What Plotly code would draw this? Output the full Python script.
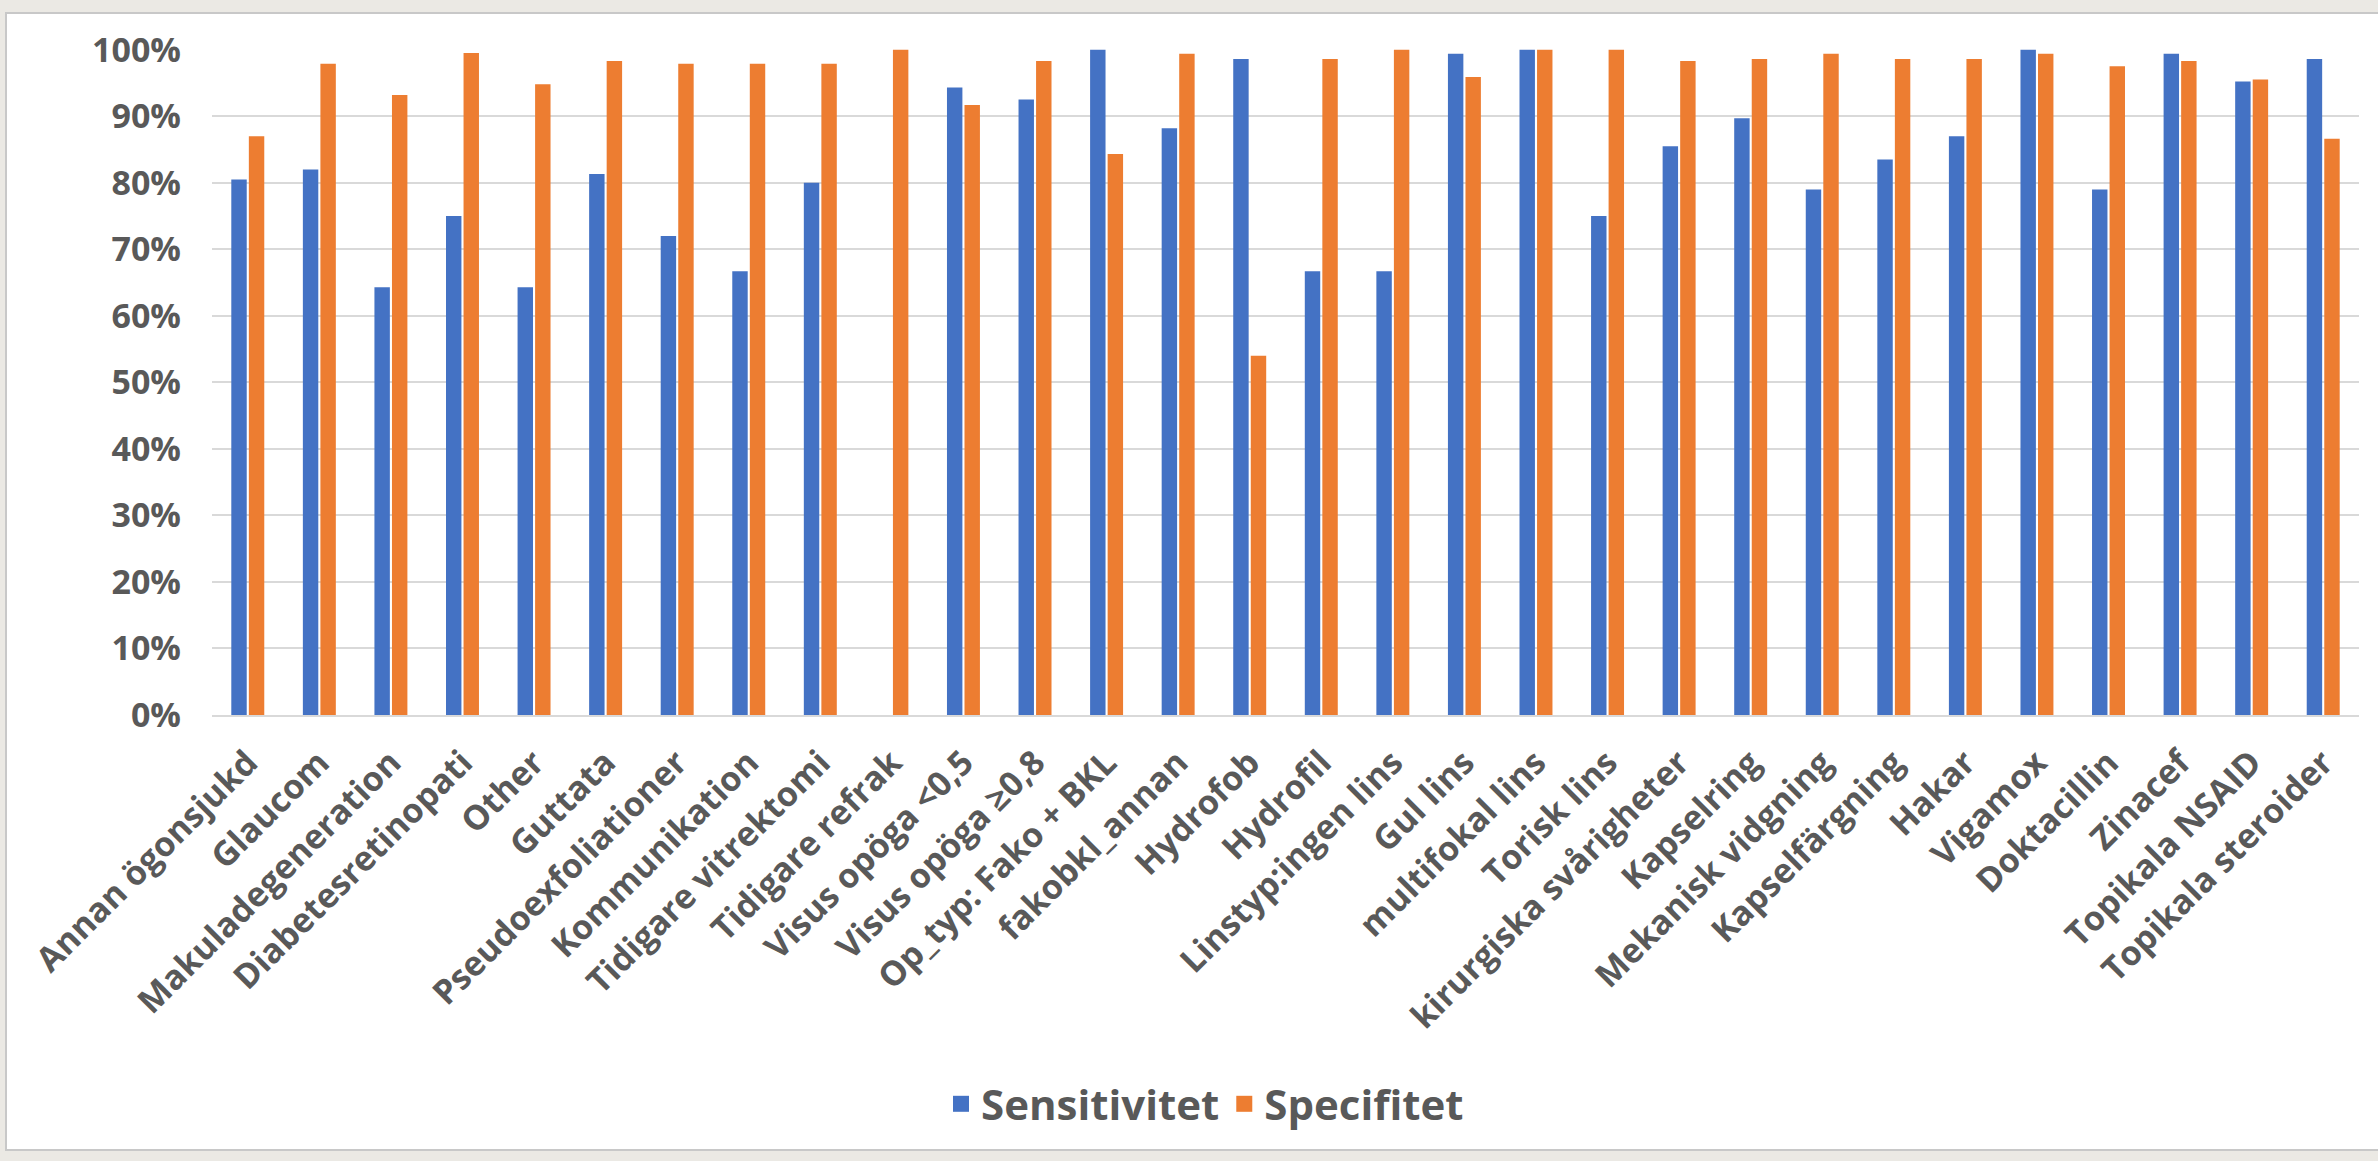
import plotly.graph_objects as go

# Categories (surgical / patient factors)
categories = [
    "Annan ögonsjukd", "Glaucom", "Makuladegeneration", "Diabetesretinopati",
    "Other", "Guttata", "Pseudoexfoliationer", "Kommunikation",
    "Tidigare vitrektomi", "Tidigare refrak", "Visus opöga <0,5",
    "Visus opöga ≥0,8", "Op_typ: Fako + BKL", "fakobkl_annan", "Hydrofob",
    "Hydrofil", "Linstyp:ingen lins", "Gul lins", "multifokal lins",
    "Torisk lins", "kirurgiska svårigheter", "Kapselring", "Mekanisk vidgning",
    "Kapselfärgning", "Hakar", "Vigamox", "Doktacillin", "Zinacef",
    "Topikala NSAID", "Topikala steroider",
]

# Sensitivity and specificity, in percent
sensitivitet = [
    80.5, 82.0, 64.3, 75.0, 64.3, 81.3, 72.0, 66.7, 80.0, 0.0,
    94.3, 92.5, 100.0, 88.2, 98.6, 66.7, 66.7, 99.4, 100.0, 75.0,
    85.5, 89.7, 79.0, 83.5, 87.0, 100.0, 79.0, 99.4, 95.2, 98.6,
]
specifitet = [
    87.0, 97.9, 93.2, 99.5, 94.8, 98.3, 97.9, 97.9, 97.9, 100.0,
    91.7, 98.3, 84.3, 99.4, 54.0, 98.6, 100.0, 95.9, 100.0, 100.0,
    98.3, 98.6, 99.4, 98.6, 98.6, 99.4, 97.5, 98.3, 95.5, 86.6,
]

series_names = ["Sensitivitet", "Specifitet"]
series_colors = ["#4472C4", "#ED7D31"]

W, H = 2378, 1161
L, R, T, B = 212, 19, 49, 446
text_color = "#595959"
font_family = "Open Sans"

fig = go.Figure()
for name, vals, col in zip(series_names, [sensitivitet, specifitet], series_colors):
    fig.add_trace(go.Bar(
        x=categories,
        y=[v / 100 for v in vals],
        name=name,
        marker=dict(color=col, line=dict(width=0)),
        showlegend=False,
        legendgroup=name,
    ))
    # Larger square legend key for the series
    fig.add_trace(go.Scatter(
        x=[None], y=[None], mode="markers", name=name, legendgroup=name,
        marker=dict(symbol="square", size=16, color=col),
        showlegend=True,
    ))

plot_w = W - L - R
plot_h = H - T - B


def px_to_paper_x(px):
    return (px - L) / plot_w


def px_to_paper_y(py):
    return (H - B - py) / plot_h


# White chart card on a light grey frame
fig.add_shape(
    type="rect", xref="paper", yref="paper", layer="below",
    x0=px_to_paper_x(6), x1=px_to_paper_x(2380),
    y0=px_to_paper_y(1150), y1=px_to_paper_y(13),
    fillcolor="white", line=dict(color="#c8c8c8", width=2),
)

fig.update_layout(
    width=W, height=H,
    margin=dict(l=L, r=R, t=T, b=B),
    paper_bgcolor="#ebe9e4",
    plot_bgcolor="rgba(0,0,0,0)",
    barmode="group",
    bargap=0.51,
    bargroupgap=0.12,
    font=dict(family=font_family, color=text_color, size=30, weight=700),
    legend=dict(
        orientation="h", x=px_to_paper_x(1205), xanchor="center",
        y=px_to_paper_y(1104), yanchor="middle",
        font=dict(size=42, family=font_family, color=text_color, weight=700),
        itemsizing="trace", itemwidth=30, bgcolor="rgba(0,0,0,0)",
    ),
    xaxis=dict(
        type="category",
        tickangle=-45,
        tickfont=dict(size=34, family=font_family, color=text_color, weight=700),
        showgrid=False,
        showline=True, linecolor="#d9d9d9", linewidth=2,
        ticks="", ticklabelstandoff=12,
    ),
    yaxis=dict(
        range=[0, 1.001],
        dtick=0.1,
        tickformat=".0%",
        tickfont=dict(size=34, family=font_family, color=text_color, weight=700),
        showgrid=True, gridcolor="#d9d9d9", gridwidth=2,
        zeroline=False, showline=False,
        ticks="", ticklabelstandoff=30,
    ),
)

fig.write_html("out.html")
